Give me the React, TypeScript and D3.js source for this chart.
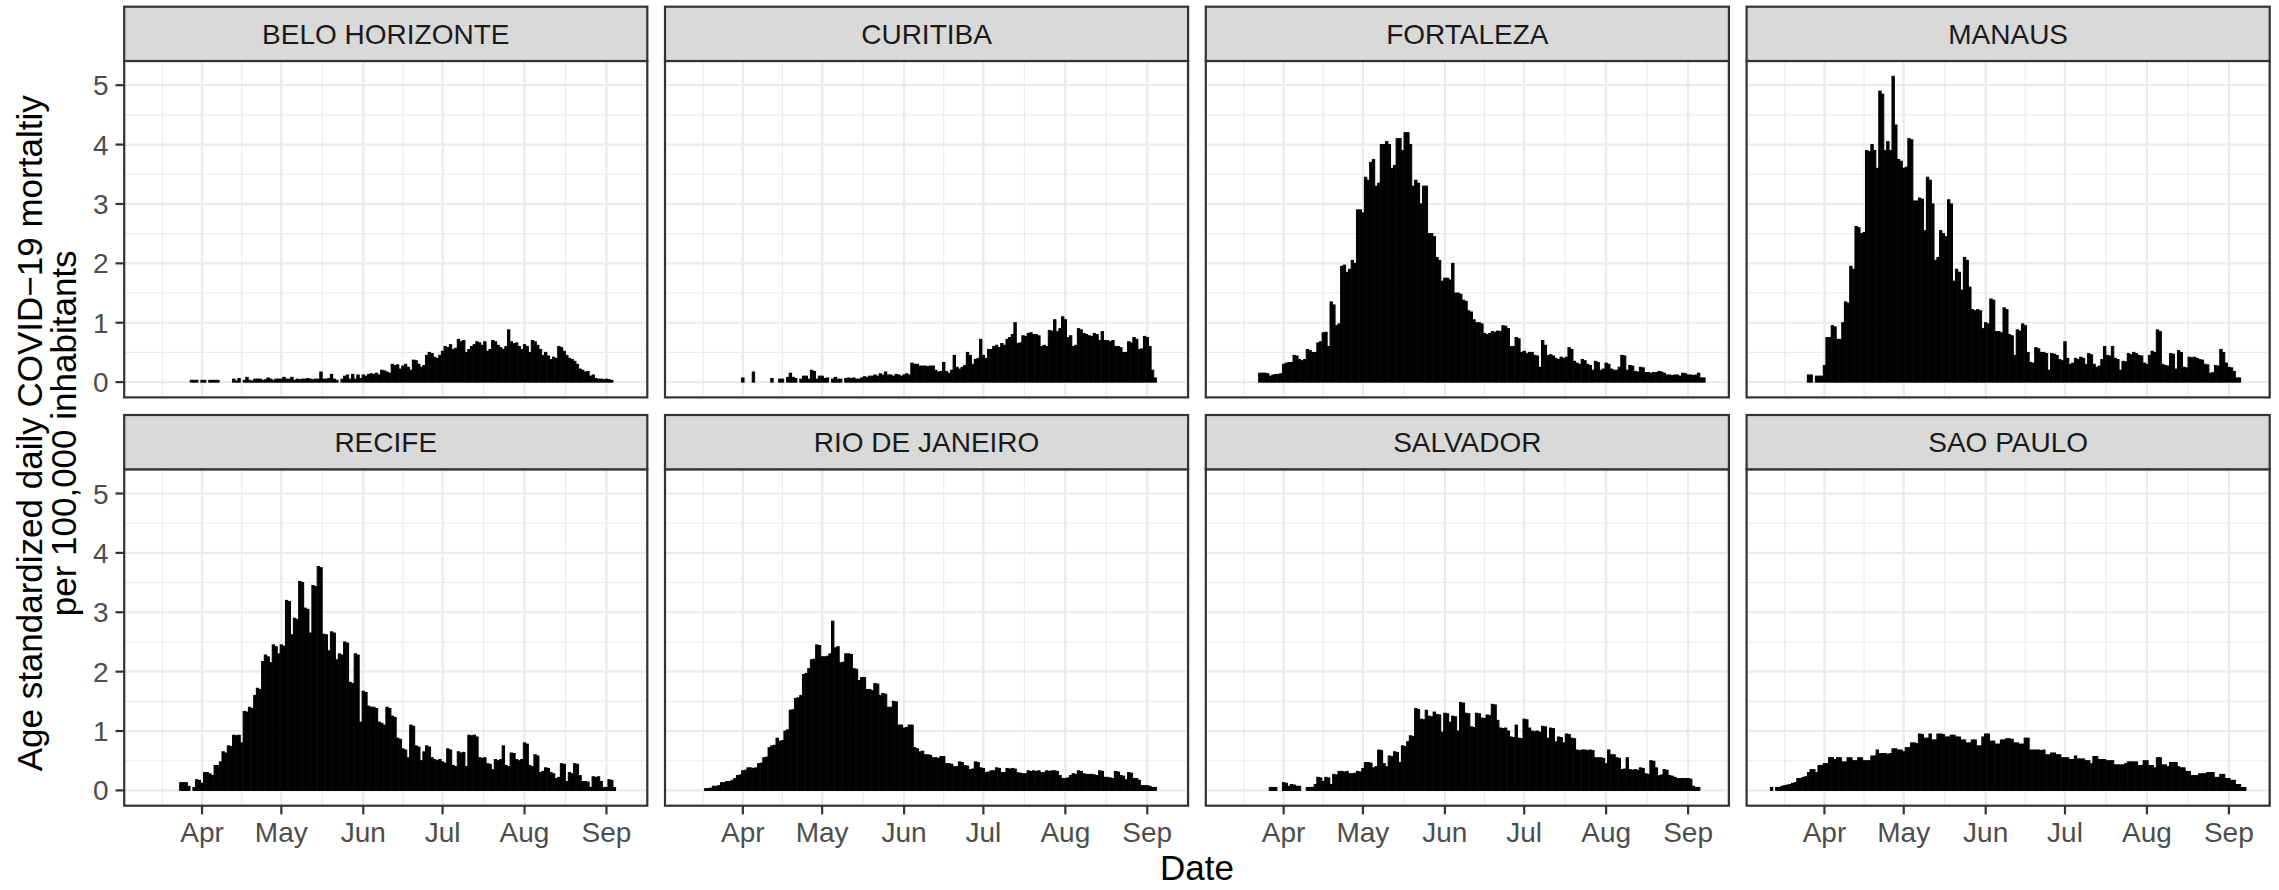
import React from "react";
import * as d3 from "d3";

// ---------------- DATA ----------------
const CITY_NAMES = [
  "BELO HORIZONTE",
  "CURITIBA",
  "FORTALEZA",
  "MANAUS",
  "RECIFE",
  "RIO DE JANEIRO",
  "SALVADOR",
  "SAO PAULO",
];

// first date of each city's daily series (one value per day afterwards, null = no bar)
const CITY_START_DATES = [
  "2020-03-28",
  "2020-04-01",
  "2020-03-23",
  "2020-03-26",
  "2020-03-24",
  "2020-03-18",
  "2020-03-27",
  "2020-03-12",
];

const BELO_HORIZONTE = [
  0.03, 0.03, 0.03, null, 0.03, 0.03, null, 0.03, 0.03, 0.03, 0.03,
  null, null, null, null, null,
  0.05, 0.02, 0.06, null, 0.03, 0.08, 0.03, 0.02, 0.05, 0.05,
  0.05, 0.03, 0.04, 0.07, 0.05, 0.03, 0.05, 0.05, 0.05, 0.08,
  0.05, 0.05, 0.08, 0.03, 0.05, 0.04, 0.05, 0.05, 0.06, 0.05,
  0.04, 0.05, 0.05, 0.17, 0.05, 0.05, 0.06, 0.13, 0.05, 0.03,
  null, 0.05, 0.1, 0.12, 0.05, 0.13, 0.05, 0.12, 0.06, 0.12, 0.1, 0.13, 0.14,
  0.13, 0.15, 0.12, 0.2, 0.19, 0.17, 0.15, 0.3, 0.28, 0.29,
  0.22, 0.27, 0.3, 0.25, 0.2, 0.37, 0.36, 0.3, 0.25, 0.28,
  0.45, 0.5, 0.48, 0.42, 0.4, 0.45, 0.52, 0.6, 0.58, 0.63,
  0.55, 0.57, 0.72, 0.68, 0.7, 0.5, 0.55, 0.6, 0.63, 0.68,
  0.66, 0.62, 0.68, 0.52, 0.55, 0.7, 0.68, 0.62, 0.58, 0.55,
  0.6, 0.88, 0.68, 0.65, 0.66, 0.6, 0.55, 0.63, 0.6, 0.5,
  0.7, 0.68, 0.62, 0.55, 0.45, 0.5, 0.44, 0.38, 0.42, 0.4,
  0.6, 0.58, 0.52, 0.45, 0.4, 0.38, 0.35, 0.3, 0.22, 0.2,
  0.17, 0.18, 0.1, 0.12, 0.06, 0.05, 0.05, 0.04, 0.05, 0.04, 0.03,
];

const CURITIBA = [
  0.07, null, null, null, 0.17, null, null, null, null, null,
  null, 0.06, null, null, 0.05, 0.05, null, 0.08, 0.15, 0.08,
  0.06, null, 0.05, 0.1, 0.1, 0.05, 0.2, 0.18, 0.05, 0.1,
  0.1, 0.06, 0.07, null, 0.05, 0.08, 0.05, 0.05, null, 0.06,
  0.07, 0.06, 0.07, 0.05, 0.05, 0.07, 0.09, 0.08, 0.1, 0.1,
  0.12, 0.1, 0.14, 0.12, 0.17, 0.12, 0.12, 0.1, 0.13, 0.12,
  0.1, 0.12, 0.14, 0.12, 0.32, 0.3, 0.3, 0.27, 0.27, 0.27,
  0.26, 0.27, 0.27, 0.2, 0.17, 0.18, 0.33, 0.18, 0.15, 0.2,
  0.45, 0.25, 0.22, 0.25, 0.28, 0.5, 0.45, 0.3, 0.38, 0.4,
  0.72, 0.45, 0.4, 0.55, 0.55, 0.6, 0.62, 0.58, 0.65, 0.62,
  0.72, 0.75, 0.8, 1.0, 0.65, 0.66, 0.78, 0.77, 0.82, 0.83,
  0.8, 0.8, 0.78, 0.6, 0.62, 0.6, 0.87, 0.86, 1.05, 0.85,
  0.9, 1.1, 1.05, 0.75, 0.78, 0.6, 0.62, 0.9, 0.88, 0.82,
  0.8, 0.78, 0.77, 0.82, 0.8, 0.7, 0.85, 0.7, 0.7, 0.68,
  0.7, 0.6, 0.6, 0.58, 0.5, 0.5, 0.68, 0.66, 0.75, 0.72,
  0.55, 0.56, 0.77, 0.75, 0.6, 0.2, 0.07,
];

const FORTALEZA = [
  0.15, 0.15, 0.15, 0.14, 0.1, 0.12, 0.13, 0.13, 0.14,
  0.3, 0.32, 0.33, 0.33, 0.45, 0.44, 0.38, 0.36, 0.38, 0.55,
  0.53, 0.5, 0.5, 0.66, 0.68, 0.83, 0.84, 0.6, 1.35, 1.3,
  0.95, 0.98, 1.95, 1.97, 1.85, 1.9, 2.05, 2.0, 2.9, 2.9,
  2.85, 3.45, 3.4, 3.7, 3.75, 3.3, 3.35, 4.0, 4.0, 4.05,
  4.0, 3.6, 3.65, 4.1, 4.1, 3.9, 4.2, 4.2, 4.0, 3.3,
  3.4, 3.35, 3.0, 3.3, 3.3, 2.5, 2.5, 2.45, 2.1, 2.05,
  1.7, 1.75, 1.75, 1.72, 2.0, 1.5, 1.5, 1.48, 1.38, 1.36,
  1.2, 1.18, 1.05, 1.0, 1.0, 0.98, 0.82, 0.8, 0.82, 0.85,
  0.84, 0.86, 0.85, 0.95, 0.94, 0.9, 0.6, 0.6, 0.75, 0.73,
  0.5, 0.52, 0.48, 0.5, 0.5, 0.45, 0.44, 0.25, 0.7, 0.62,
  0.45, 0.46, 0.44, 0.4, 0.38, 0.42, 0.4, 0.42, 0.58, 0.55,
  0.35, 0.32, 0.3, 0.38, 0.36, 0.3, 0.28, 0.2, 0.35, 0.33,
  0.2, 0.22, 0.32, 0.3, 0.22, 0.2, 0.2, 0.25, 0.45, 0.44,
  0.2, 0.28, 0.27, 0.18, 0.17, 0.25, 0.24, 0.16, 0.16, 0.15,
  0.16, 0.16, 0.18, 0.17, 0.15, 0.12, 0.12, 0.11, 0.12, 0.12,
  0.1, 0.15, 0.14, 0.12, 0.12, 0.11, 0.12, 0.15, 0.07, 0.07,
];

const MANAUS = [
  0.12, 0.12, null, 0.1, 0.1, 0.1,
  0.28, 0.75, 0.75, 0.95, 0.93, 0.72, 0.72, 1.0, 1.35, 1.33,
  1.95, 1.9, 2.62, 2.6, 2.5, 2.52, 3.9, 3.88, 4.0, 3.9,
  3.6, 4.9, 4.85, 3.9, 4.05, 3.9, 5.15, 4.33, 3.75, 3.72,
  3.6, 3.62, 4.1, 4.08, 3.05, 3.05, 3.1, 3.08, 2.55, 3.45,
  3.4, 3.0, 2.05, 2.1, 2.55, 2.5, 2.45, 3.07, 3.0, 1.7,
  1.9, 1.85, 1.55, 2.1, 2.05, 1.6, 1.22, 1.2, 1.22, 1.2,
  0.9, 1.0, 0.98, 1.4, 1.38, 0.85, 0.85, 0.83, 1.25, 1.22,
  0.8, 0.78, 0.45, 0.88, 0.86, 0.98, 0.95, 0.5, 0.33, 0.32,
  0.58, 0.56, 0.5, 0.5, 0.48, 0.2, 0.48, 0.47, 0.45, 0.38,
  0.36, 0.68, 0.4, 0.3, 0.32, 0.4, 0.38, 0.42, 0.4, 0.3,
  0.48, 0.46, 0.3, 0.25, 0.27, 0.38, 0.6, 0.45, 0.44, 0.6,
  0.4, 0.38, 0.2, 0.35, 0.34, 0.48, 0.46, 0.5, 0.48, 0.45,
  0.44, 0.32, 0.3, 0.45, 0.52, 0.5, 0.88, 0.85, 0.3, 0.28,
  0.27, 0.48, 0.47, 0.22, 0.53, 0.5, 0.25, 0.24, 0.42, 0.41,
  0.42, 0.4, 0.38, 0.37, 0.3, 0.29, 0.15, 0.16, 0.28, 0.27,
  0.55, 0.5, 0.32, 0.25, 0.24, 0.18, 0.07, 0.07,
];

const RECIFE = [
  0.13, 0.13, 0.13, 0.07, null, 0.05, 0.18, 0.17,
  0.12, 0.3, 0.3, 0.28, 0.25, 0.42, 0.42, 0.48, 0.65, 0.63,
  0.75, 0.74, 0.93, 0.92, 0.93, 0.8, 1.33, 1.32, 1.4, 1.38,
  1.6, 1.72, 1.7, 2.17, 2.28, 2.25, 2.15, 2.45, 2.42, 2.3,
  2.45, 2.43, 3.2, 3.18, 2.62, 2.9, 2.88, 3.52, 3.5, 3.07,
  3.05, 2.65, 3.45, 3.43, 3.77, 3.75, 2.63, 2.62, 2.35, 2.67,
  2.65, 2.2, 2.3, 2.28, 2.5, 2.48, 1.82, 1.8, 2.3, 2.28,
  1.15, 1.67, 1.65, 1.42, 1.4, 1.4, 1.38, 1.15, 1.13, 1.1,
  1.4, 1.38, 1.25, 1.23, 0.88, 0.86, 0.7, 0.68, 0.55, 1.1,
  1.08, 0.75, 0.73, 0.5, 0.65, 0.75, 0.73, 0.55, 0.52, 0.5,
  0.52, 0.48, 0.46, 0.7, 0.68, 0.42, 0.4, 0.65, 0.63, 0.64,
  0.4, 0.93, 0.92, 0.93, 0.9, 0.55, 0.54, 0.55, 0.45, 0.44,
  0.35, 0.52, 0.5, 0.52, 0.75, 0.42, 0.4, 0.63, 0.62, 0.52,
  0.5, 0.52, 0.8, 0.78, 0.42, 0.4, 0.6, 0.58, 0.3, 0.32,
  0.38, 0.37, 0.3, 0.28, 0.2, 0.22, 0.45, 0.44, 0.15, 0.3,
  0.28, 0.45, 0.44, 0.25, 0.15, 0.15, 0.14, 0.05, 0.23, 0.22,
  0.23, 0.15, 0.05, 0.05, 0.18, 0.17, 0.05,
];

const RIO_DE_JANEIRO = [
  0.03, 0.03, 0.04, 0.07, 0.07, 0.08, 0.13, 0.13, 0.15, 0.15, 0.17, 0.2, 0.25, 0.26,
  0.33, 0.34, 0.38, 0.38, 0.37, 0.38, 0.45, 0.46, 0.55, 0.56,
  0.72, 0.75, 0.76, 0.88, 0.83, 0.84, 1.0, 1.02, 1.35, 1.36,
  1.55, 1.56, 1.6, 1.95, 1.97, 2.05, 2.2, 2.21, 2.45, 2.44,
  2.25, 2.25, 2.26, 2.3, 2.85, 2.4, 2.42, 2.15, 2.16, 2.3,
  2.3, 2.29, 2.05, 2.04, 1.85, 1.9, 1.9, 1.7, 1.7, 1.68,
  1.8, 1.79, 1.6, 1.63, 1.62, 1.4, 1.4, 1.5, 1.49, 1.1,
  1.1, 1.05, 1.06, 1.1, 1.1, 0.72, 0.7, 0.65, 0.66, 0.6,
  0.6, 0.59, 0.55, 0.55, 0.54, 0.57, 0.57, 0.45, 0.45, 0.44,
  0.4, 0.4, 0.48, 0.47, 0.42, 0.41, 0.35, 0.36, 0.48, 0.47,
  0.38, 0.37, 0.3, 0.31, 0.33, 0.33, 0.38, 0.37, 0.3, 0.3,
  0.37, 0.36, 0.37, 0.36, 0.3, 0.29, 0.28, 0.28, 0.33, 0.32,
  0.33, 0.32, 0.33, 0.3, 0.3, 0.33, 0.32, 0.33, 0.33, 0.32,
  0.25, 0.2, 0.2, 0.21, 0.25, 0.28, 0.27, 0.33, 0.32, 0.28,
  0.27, 0.27, 0.27, 0.26, 0.25, 0.33, 0.32, 0.22, 0.22, 0.21,
  0.2, 0.32, 0.31, 0.25, 0.24, 0.18, 0.3, 0.29, 0.2, 0.2,
  0.17, 0.08, 0.08, 0.08, 0.07, 0.05, 0.05,
];

const SALVADOR = [
  0.05, 0.05, 0.05, null, null,
  0.13, 0.12, 0.07, 0.1, 0.09, 0.07, 0.07, null, null, 0.05,
  0.05, 0.05, 0.1, 0.22, 0.21, 0.15, 0.22, 0.21, 0.1, 0.27,
  0.26, 0.32, 0.32, 0.31, 0.32, 0.28, 0.28, 0.29, 0.32, 0.31,
  0.37, 0.47, 0.47, 0.46, 0.38, 0.4, 0.68, 0.67, 0.45, 0.4,
  0.58, 0.57, 0.65, 0.64, 0.47, 0.75, 0.74, 0.82, 0.92, 0.91,
  1.38, 1.36, 1.2, 1.19, 1.35, 1.25, 1.24, 1.32, 1.28, 1.27,
  0.98, 1.3, 1.29, 1.15, 1.25, 1.24, 1.0, 1.48, 1.47, 1.3,
  1.29, 1.07, 1.06, 1.3, 1.29, 1.22, 1.21, 1.27, 1.26, 1.45,
  1.44, 1.18, 1.05, 1.04, 1.05, 1.0, 0.9, 0.89, 1.1, 0.88,
  0.87, 1.2, 1.19, 1.05, 1.0, 0.99, 1.0, 0.98, 1.08, 1.07,
  0.88, 1.05, 1.04, 0.82, 0.9, 0.89, 0.8, 0.95, 0.94, 0.88,
  0.87, 0.68, 0.67, 0.68, 0.68, 0.67, 0.68, 0.67, 0.55, 0.55,
  0.55, 0.54, 0.45, 0.68, 0.6, 0.6, 0.55, 0.54, 0.35, 0.36,
  0.55, 0.35, 0.34, 0.35, 0.34, 0.38, 0.37, 0.28, 0.27, 0.5,
  0.49, 0.38, 0.25, 0.26, 0.35, 0.34, 0.25, 0.24, 0.22, 0.2,
  0.2, 0.2, 0.2, 0.2, 0.19, 0.07, 0.05, 0.05,
];

const SAO_PAULO = [
  0.05, null, 0.05, 0.05, 0.07, 0.08, 0.09, 0.1, 0.12, 0.13,
  0.2, 0.2, 0.22, 0.23, 0.3, 0.35, 0.35, 0.3, 0.42, 0.42,
  0.45, 0.45, 0.55, 0.55, 0.52, 0.55, 0.55, 0.48, 0.48, 0.55,
  0.55, 0.5, 0.5, 0.55, 0.55, 0.5, 0.5, 0.5, 0.58, 0.58,
  0.68, 0.62, 0.62, 0.62, 0.61, 0.62, 0.7, 0.7, 0.68, 0.68,
  0.65, 0.72, 0.72, 0.8, 0.8, 0.79, 0.95, 0.94, 0.88, 0.88,
  0.95, 0.85, 0.85, 0.95, 0.95, 0.94, 0.9, 0.9, 0.93, 0.93,
  0.9, 0.9, 0.85, 0.85, 0.8, 0.8, 0.85, 0.85, 0.75, 0.75,
  0.9, 0.95, 0.95, 0.83, 0.83, 0.78, 0.78, 0.85, 0.85, 0.87,
  0.87, 0.86, 0.8, 0.8, 0.78, 0.78, 0.88, 0.88, 0.68, 0.68,
  0.68, 0.68, 0.67, 0.68, 0.6, 0.6, 0.63, 0.63, 0.6, 0.6,
  0.55, 0.55, 0.55, 0.52, 0.52, 0.58, 0.53, 0.53, 0.53, 0.5,
  0.5, 0.45, 0.57, 0.57, 0.52, 0.52, 0.52, 0.5, 0.5, 0.5,
  0.43, 0.43, 0.43, 0.43, 0.45, 0.48, 0.48, 0.48, 0.48, 0.42,
  0.42, 0.5, 0.5, 0.42, 0.42, 0.38, 0.55, 0.55, 0.43, 0.43,
  0.4, 0.47, 0.47, 0.47, 0.4, 0.38, 0.38, 0.32, 0.32, 0.25,
  0.25, 0.25, 0.28, 0.28, 0.28, 0.3, 0.3, 0.3, 0.22, 0.22,
  0.27, 0.27, 0.2, 0.2, 0.17, 0.17, 0.1, 0.1, 0.05, 0.05,
];

const CITY_VALUES = [
  BELO_HORIZONTE,
  CURITIBA,
  FORTALEZA,
  MANAUS,
  RECIFE,
  RIO_DE_JANEIRO,
  SALVADOR,
  SAO_PAULO,
];

const MONTH_BREAKS = ["2020-04-01", "2020-05-01", "2020-06-01", "2020-07-01", "2020-08-01", "2020-09-01"];
const MONTH_LABELS = ["Apr", "May", "Jun", "Jul", "Aug", "Sep"];
const Y_BREAKS = [0, 1, 2, 3, 4, 5];

const X_TITLE = "Date";
const Y_TITLE_LINES = ["Age standardized daily COVID\u221219 mortaltiy", "per 100,000 inhabitants"];

// ---------------- LAYOUT ----------------
const W = 2279;
const H = 890;
const NCOL = 4;
const PANEL_X0 = 124.2;
const PANEL_STEP_X = 540.8;
const PANEL_W = 523.1;
const STRIP_Y0 = 6.7;
const ROW_STEP = 408.3;
const STRIP_H = 54.3;
const PANEL_H = 336.4;
const FONT = "'Liberation Sans', Arial, Helvetica, sans-serif";
const LINE_W = 2.2;
const TICK_LEN = 8.7;

const DAY = 86400000;
const parse = (s: string) => new Date(s + "T00:00:00Z");

type Bar = { date: Date; value: number };

const SERIES: { name: string; bars: Bar[] }[] = CITY_NAMES.map((name, i) => {
  const start = parse(CITY_START_DATES[i]);
  const bars: Bar[] = [];
  CITY_VALUES[i].forEach((v, k) => {
    if (v !== null && v !== undefined) {
      bars.push({ date: new Date(start.getTime() + k * DAY), value: v as number });
    }
  });
  return { name, bars };
});

export default function App() {
  const allBars = SERIES.flatMap((s) => s.bars);
  const half = 0.45 * DAY;
  const dMin = d3.min(allBars, (b) => b.date.getTime())! - half;
  const dMax = d3.max(allBars, (b) => b.date.getTime())! + half;
  const xPad = (dMax - dMin) * 0.05;
  const x = d3
    .scaleUtc()
    .domain([new Date(dMin - xPad), new Date(dMax + xPad)])
    .range([0, PANEL_W]);

  const vMax = d3.max(allBars, (b) => b.value)!;
  const yPad = vMax * 0.05;
  const y = d3.scaleLinear().domain([-yPad, vMax + yPad]).range([PANEL_H, 0]);

  const majorX = MONTH_BREAKS.map(parse);
  const step0 = majorX[1].getTime() - majorX[0].getTime();
  const extX = [
    majorX[0].getTime() - step0,
    ...majorX.map((d) => d.getTime()),
    majorX[majorX.length - 1].getTime() + step0,
  ];
  const [xd0, xd1] = x.domain().map((d) => d.getTime());
  const minorX = d3
    .pairs(extX)
    .map(([a, b]) => (a + b) / 2)
    .filter((t) => t >= xd0 && t <= xd1)
    .map((t) => new Date(t));

  const yStep = Y_BREAKS[1] - Y_BREAKS[0];
  const extY = [Y_BREAKS[0] - yStep, ...Y_BREAKS, Y_BREAKS[Y_BREAKS.length - 1] + yStep];
  const [yd0, yd1] = y.domain();
  const minorY = d3
    .pairs(extY)
    .map(([a, b]) => (a + b) / 2)
    .filter((v) => v >= yd0 && v <= yd1);

  const nRows = Math.ceil(SERIES.length / NCOL);
  const panelsTop = STRIP_Y0 + STRIP_H;
  const panelsBottom = STRIP_Y0 + (nRows - 1) * ROW_STEP + STRIP_H + PANEL_H;
  const panelsLeft = PANEL_X0;
  const panelsRight = PANEL_X0 + (NCOL - 1) * PANEL_STEP_X + PANEL_W;
  const yTitleCy = (panelsTop + panelsBottom) / 2;
  const xTitleCx = (panelsLeft + panelsRight) / 2;

  return (
    <svg
      width={W}
      height={H}
      viewBox={`0 0 ${W} ${H}`}
      style={{ position: "absolute", left: 0, top: 0, background: "#fff" }}
      fontFamily={FONT}
    >
      <rect x={0} y={0} width={W} height={H} fill="#ffffff" />
      {SERIES.map((s, i) => {
        const col = i % NCOL;
        const row = Math.floor(i / NCOL);
        const px = PANEL_X0 + col * PANEL_STEP_X;
        const sy = STRIP_Y0 + row * ROW_STEP;
        const py = sy + STRIP_H;
        const isBottom = row === nRows - 1;
        const isLeft = col === 0;
        return (
          <g key={s.name}>
            {/* panel */}
            <g transform={`translate(${px},${py})`}>
              <rect x={0} y={0} width={PANEL_W} height={PANEL_H} fill="#ffffff" />
              {minorY.map((v) => (
                <line key={"my" + v} x1={0} x2={PANEL_W} y1={y(v)} y2={y(v)} stroke="#EBEBEB" strokeWidth={1.1} />
              ))}
              {minorX.map((d) => (
                <line key={"mx" + d.getTime()} x1={x(d)} x2={x(d)} y1={0} y2={PANEL_H} stroke="#EBEBEB" strokeWidth={1.1} />
              ))}
              {Y_BREAKS.map((v) => (
                <line key={"gy" + v} x1={0} x2={PANEL_W} y1={y(v)} y2={y(v)} stroke="#EBEBEB" strokeWidth={LINE_W} />
              ))}
              {majorX.map((d) => (
                <line key={"gx" + d.getTime()} x1={x(d)} x2={x(d)} y1={0} y2={PANEL_H} stroke="#EBEBEB" strokeWidth={LINE_W} />
              ))}
              {s.bars.map((b) => {
                const x0 = x(new Date(b.date.getTime() - half));
                const x1 = x(new Date(b.date.getTime() + half));
                const yv = y(b.value);
                return (
                  <rect
                    key={b.date.getTime()}
                    x={x0}
                    y={yv}
                    width={x1 - x0}
                    height={y(0) - yv}
                    fill="#000000"
                    stroke="#000000"
                    strokeWidth={1}
                  />
                );
              })}
              <rect
                x={0}
                y={0}
                width={PANEL_W}
                height={PANEL_H}
                fill="none"
                stroke="#333333"
                strokeWidth={LINE_W}
              />
              {isLeft &&
                Y_BREAKS.map((v) => (
                  <g key={"yt" + v}>
                    <line x1={-TICK_LEN} x2={0} y1={y(v)} y2={y(v)} stroke="#333333" strokeWidth={LINE_W} />
                    <text
                      x={-TICK_LEN - 7}
                      y={y(v)}
                      dy="0.36em"
                      textAnchor="end"
                      fontSize={28}
                      fill="#4D4D4D"
                    >
                      {v}
                    </text>
                  </g>
                ))}
              {isBottom &&
                majorX.map((d, k) => (
                  <g key={"xt" + k}>
                    <line x1={x(d)} x2={x(d)} y1={PANEL_H} y2={PANEL_H + TICK_LEN} stroke="#333333" strokeWidth={LINE_W} />
                    <text x={x(d)} y={PANEL_H + 36} textAnchor="middle" fontSize={28} fill="#4D4D4D">
                      {MONTH_LABELS[k]}
                    </text>
                  </g>
                ))}
            </g>
            {/* strip */}
            <g transform={`translate(${px},${sy})`}>
              <rect
                x={0}
                y={0}
                width={PANEL_W}
                height={STRIP_H}
                fill="#D9D9D9"
                stroke="#333333"
                strokeWidth={LINE_W}
              />
              <text
                x={PANEL_W / 2}
                y={STRIP_H / 2}
                dy="0.36em"
                textAnchor="middle"
                fontSize={28}
                fill="#1A1A1A"
              >
                {s.name}
              </text>
            </g>
          </g>
        );
      })}
      {/* axis titles */}
      <text x={xTitleCx} y={880} textAnchor="middle" fontSize={35} fill="#000000">
        {X_TITLE}
      </text>
      <text transform={`translate(0,${yTitleCy}) rotate(-90)`} textAnchor="middle" fontSize={35} fill="#000000">
        <tspan x={0} y={42}>
          {Y_TITLE_LINES[0]}
        </tspan>
        <tspan x={0} y={75.5}>
          {Y_TITLE_LINES[1]}
        </tspan>
      </text>
    </svg>
  );
}
